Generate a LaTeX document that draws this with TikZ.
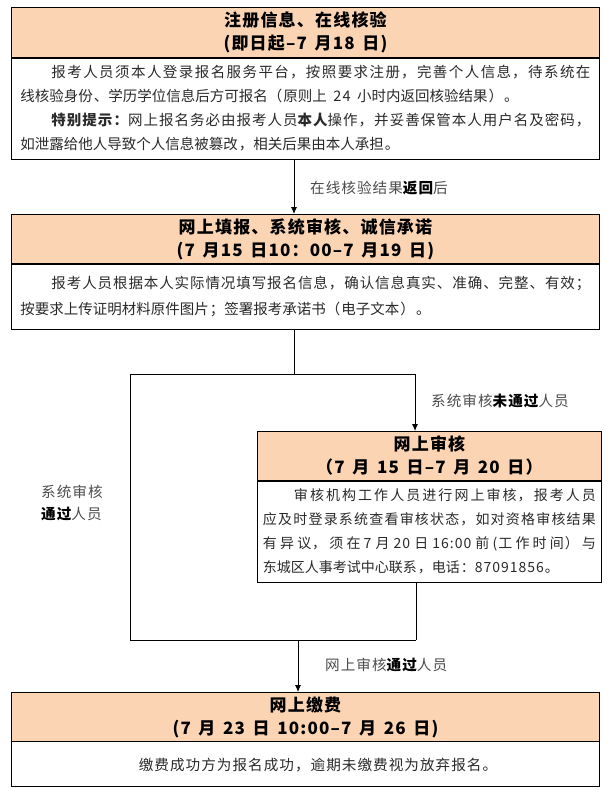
\documentclass[tikz,border=0pt]{standalone}
\usepackage{fontspec}
\setmainfont{Noto Sans CJK SC}[LetterSpace=7]
\usetikzlibrary{arrows.meta}
\XeTeXlinebreaklocale "zh"
\XeTeXlinebreakskip=0pt plus 1fil
\definecolor{hdr}{HTML}{FBD4B4}
\definecolor{txt}{HTML}{2A2A2A}
\newcommand{\jline}[1]{{\parfillskip=0pt #1\par}}
\newcommand{\lline}[1]{{\parfillskip=0pt plus 1fill #1\par}}
\newcommand{\hs}{\hspace{0.45em}}
\tikzset{
  hdrbox/.style={draw, line width=0.9pt, fill=hdr, anchor=north west, align=center,
    font=\bfseries\fontsize{17}{23}\selectfont, inner sep=0pt},
  bodybox/.style={draw, line width=0.9pt, fill=white, anchor=north west, align=justify,
    font=\fontsize{14.5}{24}\selectfont, text=txt, inner ysep=0pt},
  lbl/.style={font=\fontsize{14.6}{22}\selectfont, text=black!70, inner sep=0pt},
  conn/.style={line width=0.9pt},
  arr/.style={line width=0.9pt, -{Latex[length=7pt,width=6pt]}},
  divider/.style={line width=1.8pt}
}
\begin{document}
\begin{tikzpicture}[x=1pt,y=-1pt]
\useasboundingbox (0,0) rectangle (610,792);
% box 1
\node[hdrbox, minimum width=588pt, minimum height=50pt] (h1) at (11,7)
  {注册信息、在线核验\\(即日起–7\hs 月18\hs 日)};
\node[bodybox, text width=570pt, inner xsep=9pt, minimum height=102pt] (b1) at (11,57) {%
  \jline{\hspace*{31pt}报考人员须本人登录报名服务平台，按照要求注册，完善个人信息，待系统在}%
  \lline{线核验身份、学历学位信息后方可报名（原则上\hs 24\hs 小时内返回核验结果）。}%
  \jline{\hspace*{31pt}{\bfseries 特别提示：}网上报名务必由报考人员{\bfseries 本人}操作，并妥善保管本人用户名及密码，}%
  \lline{如泄露给他人导致个人信息被篡改，相关后果由本人承担。}};
\draw[divider] (h1.south west) -- (h1.south east);
% box 2
\node[hdrbox, minimum width=588pt, minimum height=49pt] (h2) at (11,214)
  {网上填报、系统审核、诚信承诺\\(7\hs 月15\hs 日10：00–7\hs 月19\hs 日)};
\node[bodybox, text width=570pt, inner xsep=9pt, minimum height=66pt,
  font=\fontsize{14.5}{26}\selectfont] (b2) at (11,263) {%
  \jline{\hspace*{31pt}报考人员根据本人实际情况填写报名信息，确认信息真实、准确、完整、有效；}%
  \lline{按要求上传证明材料原件图片；签署报考承诺书（电子文本）。}};
\draw[divider] (h2.south west) -- (h2.south east);
% box 3
\node[hdrbox, minimum width=344pt, minimum height=49pt] (h3) at (257,431)
  {网上审核\\（7\hs 月\hs 15\hs 日–7\hs 月\hs 20\hs 日）};
\node[bodybox, text width=333pt, inner xsep=5.5pt, minimum height=102pt,
  font=\fontsize{14}{24}\selectfont] (b3) at (257,480) {%
  \jline{\hspace*{31pt}审核机构工作人员进行网上审核，报考人员}%
  \jline{应及时登录系统查看审核状态，如对资格审核结果}%
  \jline{有异议，须在7 月 20 日 16:00 前(工作时间）与}%
  \lline{东城区人事考试中心联系，电话：87091856。}};
\draw[divider] (h3.south west) -- (h3.south east);
% box 4
\node[hdrbox, minimum width=588pt, minimum height=49pt] (h4) at (11,692)
  {网上缴费\\(7\hs 月\hs 23\hs 日\hs 10:00–7\hs 月\hs 26\hs 日)};
\node[bodybox, minimum width=588pt, minimum height=45pt, align=center] (b4) at (11,741) {};
\node[font=\fontsize{14.6}{24}\selectfont, text=txt, inner sep=0pt] (t4) at (318,765)
  {缴费成功方为报名成功，逾期未缴费视为放弃报名。};
% labels
\node[lbl, anchor=west] (l1) at (310,188) {在线核验结果{\color{black}\bfseries 返回}后};
\node[lbl, anchor=west] (l2) at (431,401) {系统审核{\color{black}\bfseries 未通过}人员};
\node[lbl, anchor=west, align=left] (l3) at (41,503) {系统审核\\{\color{black}\bfseries 通过}人员};
\node[lbl, anchor=west] (l4) at (325,665) {网上审核{\color{black}\bfseries 通过}人员};
% connector coordinates
\coordinate (x1) at (294,0);
\coordinate (j1) at (294,374);
\coordinate (jl) at (130,374);
\coordinate (jr) at (415,374);
\coordinate (kl) at (130,640);
\coordinate (kr) at (416,640);
\coordinate (k1) at (298,640);
% connectors
\draw[arr] (b1.south -| x1) -- (h2.north -| x1);
\draw[conn] (b2.south -| j1) -- (j1);
\draw[conn] (jl) -- (jr);
\draw[arr] (jr) -- (h3.north -| jr);
\draw[conn] (jl) -- (kl) -- (kr);
\draw[conn] (b3.south -| kr) -- (kr);
\draw[arr] (k1) -- (h4.north -| k1);
\end{tikzpicture}
\end{document}
